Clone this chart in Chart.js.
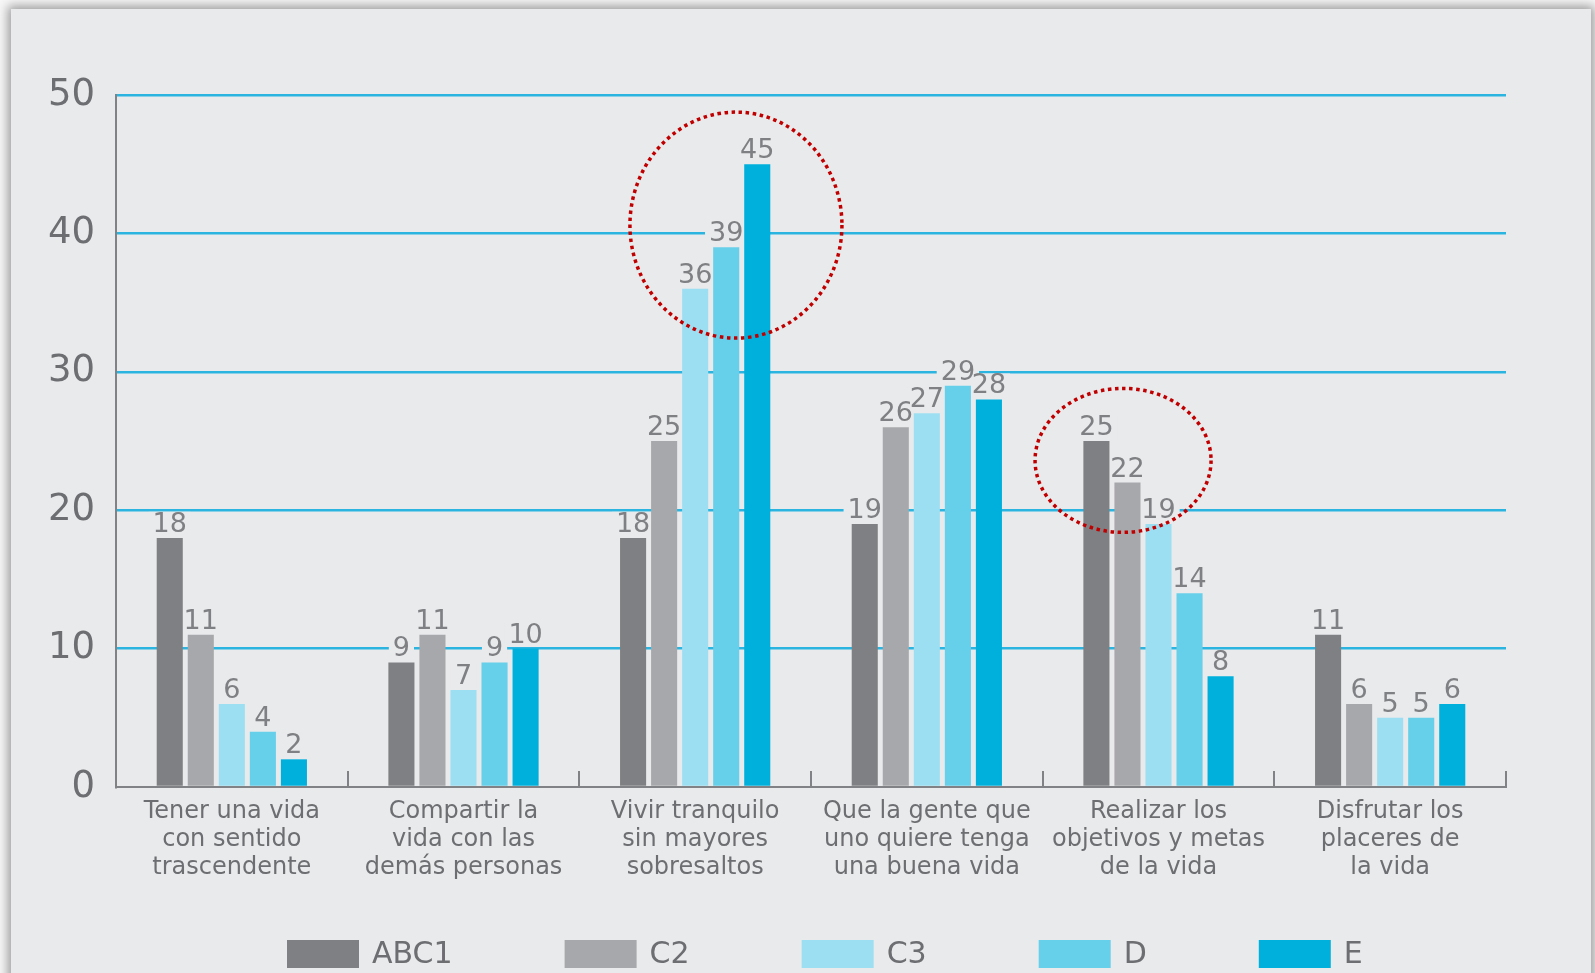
<!DOCTYPE html>
<html>
<head>
<meta charset="utf-8">
<script src="https://cdn.jsdelivr.net/npm/chart.js@4/dist/chart.umd.min.js"></script>
<style>
  html, body { margin: 0; padding: 0; background: #f7f7f7; overflow: hidden; }
  #panel {
    position: absolute; left: 11px; top: 9px; width: 1580px; height: 1000px;
    background: #e9eaec;
    box-shadow: 0 0 10px 3px rgba(0, 0, 0, 0.38);
  }
  #chart { position: absolute; left: 0; top: 0; }
</style>
</head>
<body>
<div id="panel"></div>
<canvas id="chart" width="1595" height="973"></canvas>
<script>
var categories = [
  ['Tener una vida', 'con sentido', 'trascendente'],
  ['Compartir la', 'vida con las', 'demás personas'],
  ['Vivir tranquilo', 'sin mayores', 'sobresaltos'],
  ['Que la gente que', 'uno quiere tenga', 'una buena vida'],
  ['Realizar los', 'objetivos y metas', 'de la vida'],
  ['Disfrutar los', 'placeres de', 'la vida']
];
var seriesNames = ['ABC1', 'C2', 'C3', 'D', 'E'];
var abc1 = [18, 9, 18, 19, 25, 11];
var c2 = [11, 11, 25, 26, 22, 6];
var c3 = [6, 7, 36, 27, 19, 5];
var d = [4, 9, 39, 29, 14, 5];
var e = [2, 10, 45, 28, 8, 6];
var yTicks = [0, 10, 20, 30, 40, 50];

var colors = ['#7f8083', '#a7a8ab', '#9ddff2', '#66cfea', '#00b0dc'];
var bg = '#e9eaec';
var textGray = '#6d6e71';
var axisGray = '#808285';
var font = '"DejaVu Sans", "Liberation Sans", Arial, sans-serif';

// dotted highlight circles (category index, offset in category widths, value at centre)
var highlights = [
  { cat: 2, dx: 0.176, value: 40.6, rx: 106, ry: 113 },
  { cat: 4, dx: -0.153, value: 23.6, rx: 88, ry: 72 }
];

var allSeries = [abc1, c2, c3, d, e];
var datasets = allSeries.map(function(vals, i) {
  return {
    label: seriesNames[i],
    data: vals,
    backgroundColor: colors[i],
    borderWidth: 0,
    categoryPercentage: 0.67,
    barPercentage: 0.84
  };
});

function labelBoxes(chart, cb) {
  var ctx = chart.ctx;
  ctx.save();
  ctx.font = '27px ' + font;
  chart.data.datasets.forEach(function(ds, i) {
    chart.getDatasetMeta(i).data.forEach(function(bar, j) {
      var txt = String(ds.data[j]);
      var w = ctx.measureText(txt).width;
      cb(ctx, txt, bar.x, bar.y - 6, w);
    });
  });
  ctx.restore();
}

var decorPlugin = {
  id: 'decor',
  beforeDatasetsDraw: function(chart) {
    // label backgrounds cut the grid lines
    labelBoxes(chart, function(ctx, txt, x, y, w) {
      ctx.fillStyle = bg;
      ctx.fillRect(x - w / 2 - 4, y - 20, w + 8, 23);
    });
  },
  afterDatasetsDraw: function(chart) {
    labelBoxes(chart, function(ctx, txt, x, y) {
      ctx.fillStyle = '#7f8083';
      ctx.textAlign = 'center';
      ctx.textBaseline = 'alphabetic';
      ctx.fillText(txt, x, y);
    });

    var ctx = chart.ctx;
    var xs = chart.scales.x, ys = chart.scales.y;
    var area = chart.chartArea;
    var catW = (area.right - area.left) / categories.length;

    // inner tick marks between categories
    ctx.save();
    ctx.strokeStyle = axisGray;
    ctx.lineWidth = 2;
    for (var i = 0; i < categories.length; i++) {
      var bx = Math.round(xs.getPixelForValue(i) + catW / 2);
      ctx.beginPath();
      ctx.moveTo(bx, area.bottom);
      ctx.lineTo(bx, area.bottom - 16);
      ctx.stroke();
    }
    ctx.restore();

    ctx.save();
    ctx.strokeStyle = '#c00000';
    ctx.lineWidth = 3.5;
    ctx.setLineDash([3.5, 3.6]);
    highlights.forEach(function(h) {
      var cx = xs.getPixelForValue(h.cat) + h.dx * catW;
      var cy = ys.getPixelForValue(h.value);
      ctx.beginPath();
      ctx.ellipse(cx, cy, h.rx, h.ry, 0, 0, Math.PI * 2);
      ctx.stroke();
    });
    ctx.restore();
  },
  afterDraw: function(chart) {
    // legend along the bottom
    var ctx = chart.ctx;
    ctx.save();
    ctx.font = '30px ' + font;
    ctx.textBaseline = 'middle';
    ctx.textAlign = 'left';
    var x = chart.chartArea.left + 171;
    var y = 954;
    chart.data.datasets.forEach(function(ds) {
      ctx.fillStyle = ds.backgroundColor;
      ctx.fillRect(x, y - 14, 72, 28);
      ctx.fillStyle = textGray;
      ctx.fillText(ds.label, x + 85, y + 1);
      x += 72 + 13 + ctx.measureText(ds.label).width + 112;
    });
    ctx.restore();
  }
};

new Chart(document.getElementById('chart'), {
  type: 'bar',
  data: { labels: categories, datasets: datasets },
  options: {
    responsive: false,
    animation: false,
    layout: { padding: { top: 95, right: 89, bottom: 0, left: 0 } },
    plugins: { legend: { display: false }, tooltip: { enabled: false } },
    scales: {
      x: {
        grid: { display: false, drawTicks: false },
        border: { display: true, color: axisGray, width: 2 },
        ticks: {
          color: textGray,
          font: { family: font, size: 24, lineHeight: 1.17 },
          padding: 11,
          maxRotation: 0,
          autoSkip: false
        },
        afterFit: function(s) { s.height = 186; }
      },
      y: {
        min: 0,
        max: 50,
        afterBuildTicks: function(s) {
          s.ticks = yTicks.map(function(v) { return { value: v }; });
        },
        grid: {
          color: function(c) { return c.tick && c.tick.value === 0 ? 'rgba(0,0,0,0)' : '#2ab4df'; },
          lineWidth: 2.5,
          drawTicks: false
        },
        border: { display: true, color: axisGray, width: 2 },
        ticks: {
          color: textGray,
          font: { family: font, size: 37 },
          padding: 21
        },
        afterFit: function(s) { s.width = 116; }
      }
    }
  },
  plugins: [decorPlugin]
});
</script>
</body>
</html>
